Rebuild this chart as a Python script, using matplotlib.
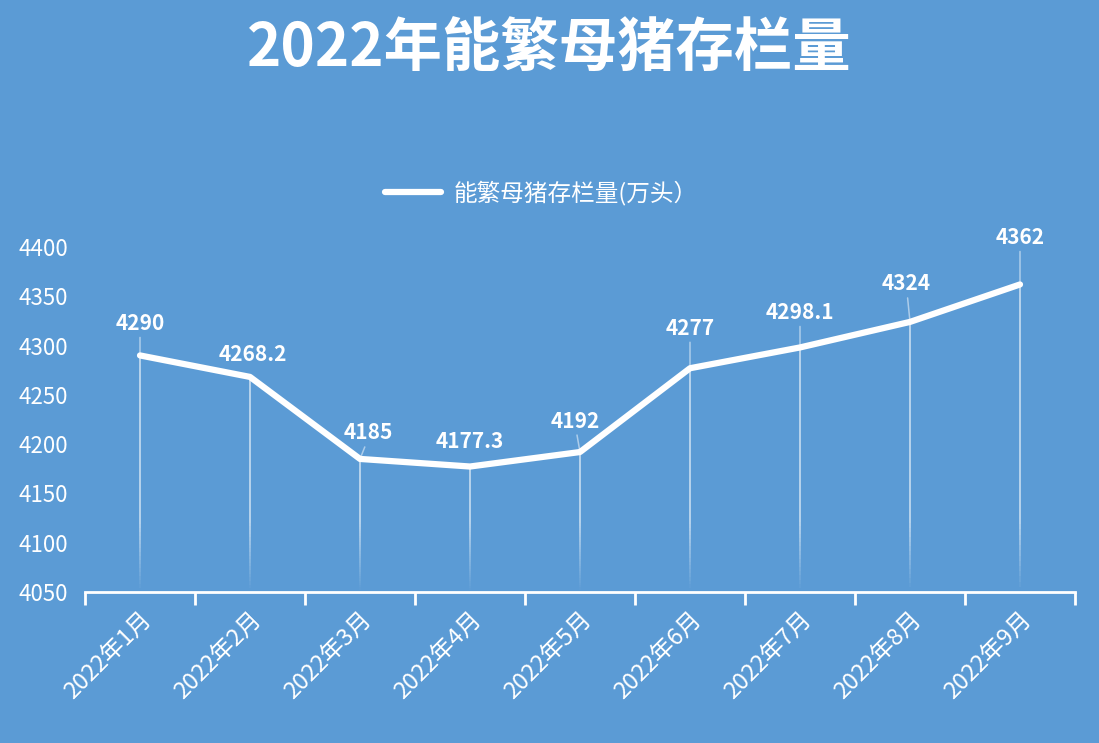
import numpy as np
import matplotlib.pyplot as plt
from matplotlib.collections import LineCollection
from matplotlib.lines import Line2D

plt.rcParams['font.family'] = ['Noto Sans CJK SC', 'DejaVu Sans']

months = ['2022年1月', '2022年2月', '2022年3月', '2022年4月', '2022年5月',
          '2022年6月', '2022年7月', '2022年8月', '2022年9月']
sows = [4290, 4268.2, 4185, 4177.3, 4192, 4277, 4298.1, 4324, 4362]
labels = ['4290', '4268.2', '4185', '4177.3', '4192', '4277', '4298.1', '4324', '4362']
# label offsets in pixels (dx, dy) from the point
offsets = [(0, 32), (3, 22), (8, 26), (0, 25), (-5, 31), (0, 40), (0, 35), (-4, 38), (0, 47)]
leaders = [True, False, True, False, True, True, True, True, True]

bg = '#5B9BD5'
W, H = 1099, 743
fig = plt.figure(figsize=(W / 100, H / 100), dpi=100, facecolor=bg)
ax = fig.add_axes([85 / W, 1 - 592 / H, (1075 - 85) / W, (592 - 247) / H])
ax.set_facecolor(bg)

x = np.arange(len(sows))
ax.set_xlim(-0.5, len(sows) - 0.5)
ax.set_ylim(4050, 4400)
ax.set_yticks(np.arange(4050, 4401, 50))

# drop lines fading out toward the axis
segs, cols = [], []
for xi, yi in zip(x, sows):
    ys = np.linspace(4050, yi, 60)
    for a, b in zip(ys[:-1], ys[1:]):
        segs.append([(xi, a), (xi, b)])
        t = (a - 4050) / 70.0
        cols.append((1, 1, 1, 0.6 * min(1.0, max(0.0, t))))
ax.add_collection(LineCollection(segs, colors=cols, linewidths=1.3))

ax.plot(x, sows, color='white', lw=4.5, solid_joinstyle='round', solid_capstyle='round',
        clip_on=False, zorder=3)

for xi, yi, lab, (dx, dy), ld in zip(x, sows, labels, offsets, leaders):
    ax.annotate(lab, (xi, yi), xytext=(dx, dy), textcoords='offset pixels',
                ha='center', va='center', color='white', fontsize=15, fontweight='bold',
                zorder=4)
    if ld:
        ax.annotate('', (xi, yi), xytext=(dx * 0.6, dy - 14), textcoords='offset pixels',
                    arrowprops=dict(arrowstyle='-', color=(1, 1, 1, 0.5), lw=1.1,
                                    shrinkA=0, shrinkB=0), zorder=2)

for s in ['top', 'right', 'left']:
    ax.spines[s].set_visible(False)
ax.spines['bottom'].set_color('white')
ax.spines['bottom'].set_linewidth(2)

ax.set_xticks(x)
ax.set_xticklabels(months, rotation=45, ha='right', rotation_mode='anchor')
ax.set_xticks(np.arange(-0.5, len(sows), 1), minor=True)
ax.tick_params(axis='x', which='major', length=0, pad=12, labelcolor='white', labelsize=17)
ax.tick_params(axis='x', which='minor', length=9, width=2, color='white', direction='out')
ax.tick_params(axis='y', length=0, pad=12, labelcolor='white', labelsize=16)

fig.text(0.5, 1 - 50 / H, '2022年能繁母猪存栏量', ha='center', va='center',
         color='white', fontsize=42, fontweight='bold')

handle = Line2D([], [], color='white', lw=4.5, solid_capstyle='round')
fig.legend([handle], ['能繁母猪存栏量(万头）'], loc='center', bbox_to_anchor=(541 / W, 1 - 193 / H),
           frameon=False, fontsize=17, labelcolor='white', handlelength=2.4, handletextpad=0.5)

fig.savefig('out.png', dpi=100, facecolor=bg)
